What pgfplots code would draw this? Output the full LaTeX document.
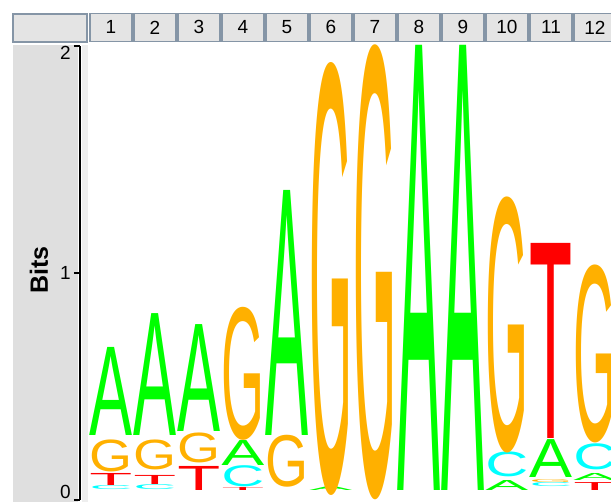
\documentclass[border=0pt]{standalone}
\usepackage{pgfplots}
\pgfplotsset{compat=1.18}
\usepackage{pgfplotstable}
\usepackage{graphicx}
\usepackage{fontspec}
\setmainfont{Liberation Sans}
\newfontfamily\logofont{Liberation Sans}
\definecolor{lA}{HTML}{00FF00}
\definecolor{lC}{HTML}{00FFFF}
\definecolor{lG}{HTML}{FFB000}
\definecolor{lT}{HTML}{FF0000}
\definecolor{panel}{HTML}{DFDFDF}
\definecolor{head}{HTML}{E4E4E4}
\definecolor{strip}{HTML}{EEEEEE}
\definecolor{hborder}{HTML}{8595A6}
\newlength\bitlen \setlength\bitlen{113.5pt}
\newlength\letterh
\newcommand\logoletter[3]{\setlength\letterh{#1\bitlen}\resizebox*{21.5pt}{\letterh}{\textcolor{#2}{\logofont #3}}}

% x = position, y = bottom of letter (bits), h = letter height (bits)
\pgfplotstableread{
x y h
1 0.286 0.388
2 0.286 0.537
3 0.300 0.471
4 0.154 0.110
5 0.286 1.079
6 0.040 0.018
8 0.044 1.960
9 0.044 1.960
10 0.044 0.044
11 0.097 0.167
12 0.084 0.031
}\tabA
\pgfplotstableread{
x y h
1 0.048 0.018
2 0.048 0.022
4 0.057 0.093
10 0.101 0.110
11 0.057 0.018
12 0.132 0.115
}\tabC
\pgfplotstableread{
x y h
1 0.123 0.141
2 0.132 0.132
3 0.163 0.132
4 0.264 0.586
5 0.057 0.229
6 0.022 1.907
7 0.000 2.004
10 0.207 1.128
11 0.075 0.013
12 0.251 0.784
}\tabG
\pgfplotstableread{
x y h
1 0.062 0.053
2 0.070 0.040
3 0.044 0.106
4 0.040 0.013
11 0.269 0.859
12 0.044 0.035
}\tabT

\pgfplotsset{
  logo/.style n args={2}{
    draw=none, mark=none,
    point meta=explicit symbolic,
    nodes near coords={\logoletter{\pgfplotspointmeta}{#1}{#2}},
    every node near coord/.append style={anchor=south, inner sep=0pt, outer sep=0pt},
  }
}

\begin{document}
\begin{tikzpicture}
\fill[panel] (-33.5pt,-1pt) rectangle (-1pt,227.5pt);
\fill[strip] (1pt,-1pt) rectangle (4pt,227.5pt);
\draw[hborder, fill=head, line width=0.6pt] (-33.5pt,229pt) rectangle (3.5pt,243pt);
\begin{axis}[
  at={(0,0)}, anchor=south west,
  x=22pt, y=113.5pt,
  xmin=0.2955, xmax=12.364, ymin=0, ymax=2,
  clip=false,
  axis y line*=left, axis x line*=top,
  x axis line style={draw=none},
  y axis line style={line width=1.4pt, black, -},
  tick align=outside, major tick length=3pt,
  xtick={1,...,12},
  xtick style={draw=none},
  ytick={0,1,2}, yticklabels={,1,},
  ytick style={line width=1.4pt, black},
  extra y ticks={0.035,1.969}, extra y tick labels={0,2},
  extra y tick style={ytick style={draw=none}},
  /pgf/number format/assume math mode=true,
  yticklabel style={font=\fontsize{9.5}{11}\selectfont, inner sep=1.5pt},
  xticklabel style={anchor=south, yshift=-1pt, font=\fontsize{9.5}{11}\selectfont,
     draw=hborder, fill=head, line width=0.6pt, minimum width=21pt, minimum height=14pt, inner sep=0pt},
  ylabel={Bits},
  every axis y label/.style={at={(axis description cs:0,0.5066)}, xshift=-20.5pt,
     rotate=90, anchor=center, font=\bfseries\fontsize{12.5}{14}\selectfont},
]
\addplot[logo={lA}{A}] table[x=x,y=y,meta=h] {\tabA};
\addplot[logo={lC}{C}] table[x=x,y=y,meta=h] {\tabC};
\addplot[logo={lT}{T}] table[x=x,y=y,meta=h] {\tabT};
\addplot[logo={lG}{G}] table[x=x,y=y,meta=h] {\tabG};
\end{axis}
\pgfresetboundingbox
\useasboundingbox (-40pt,-1pt) rectangle (265.5pt,250pt);
\end{tikzpicture}
\end{document}
